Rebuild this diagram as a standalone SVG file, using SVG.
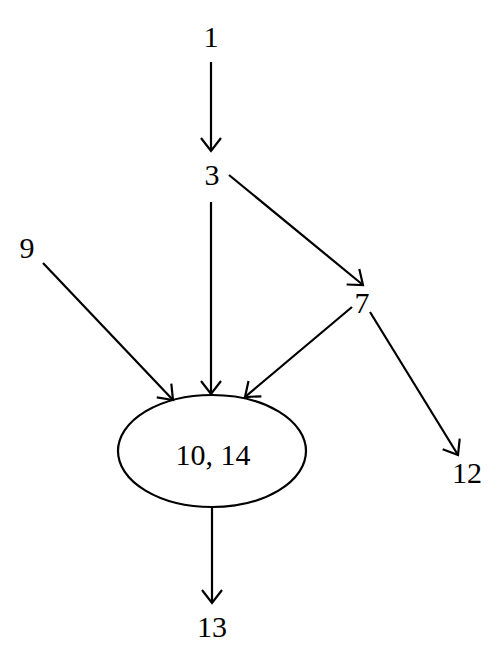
<svg xmlns="http://www.w3.org/2000/svg" width="503" height="666" viewBox="0 0 503 666">
<style>
text{font-family:"Liberation Serif","DejaVu Serif",serif;font-size:30px;fill:#000;text-anchor:middle}
.e{fill:none;stroke:#000;stroke-width:2.2;marker-end:url(#a)}
</style>
<defs>
<marker id="a" markerUnits="userSpaceOnUse" markerWidth="30" markerHeight="30" viewBox="-15 -15 30 30" refX="0" refY="0" orient="auto">
<path d="M-13,-10 L0,0 L-13,10" fill="none" stroke="#000" stroke-width="2.2"/>
</marker>
</defs>
<rect width="503" height="666" fill="#fff"/>
<g id="edges">
<line class="e" x1="211" y1="62" x2="211" y2="151"/>
<line class="e" x1="229" y1="175" x2="363" y2="285"/>
<line class="e" x1="211" y1="202" x2="211" y2="394"/>
<line class="e" x1="43" y1="263" x2="173" y2="400"/>
<line class="e" x1="352" y1="307" x2="245" y2="397"/>
<line class="e" x1="370" y1="312" x2="458" y2="455"/>
<line class="e" x1="212" y1="507" x2="212" y2="603"/>
</g>
<g id="n1"><text x="211" y="47">1</text></g>
<g id="n3"><text x="212" y="185">3</text></g>
<g id="n9"><text x="27" y="258">9</text></g>
<g id="n7"><text x="362" y="313">7</text></g>
<g id="n10_14"><ellipse cx="212" cy="451" rx="94" ry="56" fill="none" stroke="#000" stroke-width="2.2"/><text x="213" y="465">10, 14</text></g>
<g id="n12"><text x="467" y="483">12</text></g>
<g id="n13"><text x="212" y="637">13</text></g>
</svg>
